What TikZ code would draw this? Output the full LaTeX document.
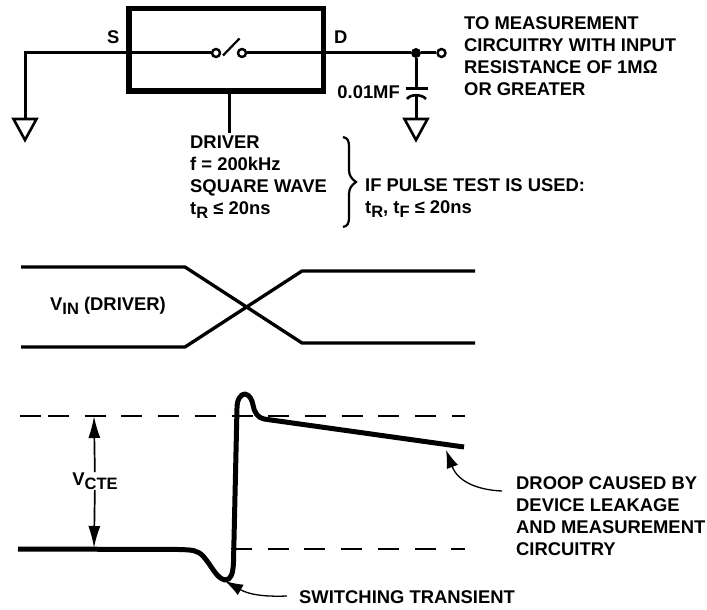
\documentclass[tikz,border=0pt]{standalone}
\usepackage{fontspec}
\setmainfont{Liberation Sans}
\usetikzlibrary{arrows.meta}
\tikzstyle{lbl}=[font=\fontsize{18.4}{22}\selectfont\bfseries,inner sep=0pt,align=left,anchor=west]
\tikzstyle{wire}=[line width=3pt]
\tikzstyle{wave}=[line width=3.3pt]
\tikzstyle{trace}=[line width=5pt,line join=round]
\tikzstyle{guide}=[line width=2.2pt,dash pattern=on 21pt off 15.7pt]
\tikzstyle{pole}=[draw,line width=2.4pt,fill=white,circle,inner sep=0pt,minimum size=8pt]
\tikzstyle{leader}=[line width=1.3pt,-{Latex[length=18pt,width=12pt]}]
\tikzstyle{span}=[line width=1.7pt,-{Latex[length=22pt,width=12pt]}]
\def\subscale{1}
\newcommand{\lowtext}[1]{\raisebox{-4.5pt}{\fontsize{16.5}{16.5}\selectfont #1}}
\newcommand{\gndsym}[1]{\draw[line width=2.6pt,line join=miter] (#1) ++(-11.5,0) -- ++(23,0) -- ++(-11.5,21) -- cycle;}

\begin{document}
\begin{tikzpicture}[x=\subscale pt,y=-\subscale pt]
	\useasboundingbox (0,0) rectangle (707,610);
	% test circuit
	\coordinate (gndl) at (25,119);
	\coordinate (cornerl) at (25,53);
	\coordinate (gndr) at (416,119);
	\coordinate (plateb) at (416,96);
	\coordinate (platet) at (416,89);
	\coordinate (driverend) at (229,133);
	\node[pole] (swa) at (216,53) {};
	\node[pole] (swb) at (242,53) {};
	\node[circle,fill,inner sep=0pt,minimum size=10pt] (tap) at (416,53) {};
	\node[pole] (out) at (441.5,53) {};
	\node[draw,line width=5.5pt,minimum width=194.5pt,minimum height=82.5pt,inner sep=0pt] (box) at (226,50) {};
	\draw[wire] (gndl) -- (cornerl) -- (swa);
	\draw[wire] (swb) -- (tap) -- (out);
	\draw[line width=2.2pt] (swa) ++(7,2.5) -- ++(16.5,-17);
	\draw[wire] (tap) -- (platet);
	\draw[wire] (plateb) -- (gndr);
	\draw[wire] (box.south -| driverend) -- (driverend);
	\draw[wire] (405.5,89) -- (427.5,89);
	\draw[line width=2.6pt] (407,99) .. controls (410,94) and (422,94) .. (426,99);
	\gndsym{gndl}
	\gndsym{gndr}
	\node[lbl] (s) at (107,37) {S};
	\node[lbl] (d) at (334,37) {D};
	\node[lbl,anchor=east] (cap) at (400,92) {0.01MF};
	\node[lbl] (meas) at (464,56) {TO MEASUREMENT\\CIRCUITRY WITH INPUT\\RESISTANCE OF 1MΩ\\OR GREATER};
	\node[lbl] (driver) at (190,177) {DRIVER\\f = 200kHz\\SQUARE WAVE\\t\lowtext{R} ≤ 20ns};
	\node[lbl] (pulse) at (365,198) {IF PULSE TEST IS USED:\\t\lowtext{R}, t\lowtext{F} ≤ 20ns};
	\draw[line width=2.2pt] (343,137) .. controls (348,138) and (349,141) .. (349,147) -- (349,170) .. controls (349,176) and (352,179) .. (356,182) .. controls (352,185) and (349,188) .. (349,194) -- (349,217) .. controls (349,223) and (348,226) .. (343,227);
	% driver waveform
	\draw[wave] (21,267) -- (185,267) -- (302,343) -- (475,343);
	\draw[wave] (21,347) -- (185,347) -- (302,271) -- (475,271);
	\node[lbl] (vin) at (50,306) {V\lowtext{IN} (DRIVER)};
	% output waveform
	\draw[guide] (20,416) -- (42,416);
	\draw[guide] (48,416) -- (465,416);
	\draw[guide] (231,549) -- (465,549);
	\draw[trace] (18,549) -- (180,549.5) .. controls (192,550) and (197,550) .. (203,556) .. controls (212,566) and (216,578) .. (225,580) .. controls (231,580) and (233,574) .. (233.5,562) -- (237,408) .. controls (237,399) and (241,394) .. (245,394) .. controls (250,395) and (252,400) .. (253,405) .. controls (254,412) and (258,418) .. (264,419) -- (464,447);
	\node[lbl,anchor=center] (vcte) at (95,481) {V\lowtext{CTE}};
	\coordinate (vtop) at (94,416);
	\coordinate (vbot) at (94,548);
	\draw[span] (vcte) -- (vtop);
	\draw[span] (vcte) -- (vbot);
	\node[lbl] (droop) at (516,516) {DROOP CAUSED BY\\DEVICE LEAKAGE\\AND MEASUREMENT\\CIRCUITRY};
	\node[lbl] (sw) at (299,597) {SWITCHING TRANSIENT};
	\coordinate (droopend) at (502,491);
	\coordinate (droopat) at (446,450);
	\coordinate (swend) at (287,596);
	\coordinate (swat) at (225,581);
	\draw[leader] (droopend) .. controls (478,490) and (458,482) .. (droopat);
	\draw[leader] (swend) .. controls (262,597) and (248,594) .. (swat);
\end{tikzpicture}
\end{document}
